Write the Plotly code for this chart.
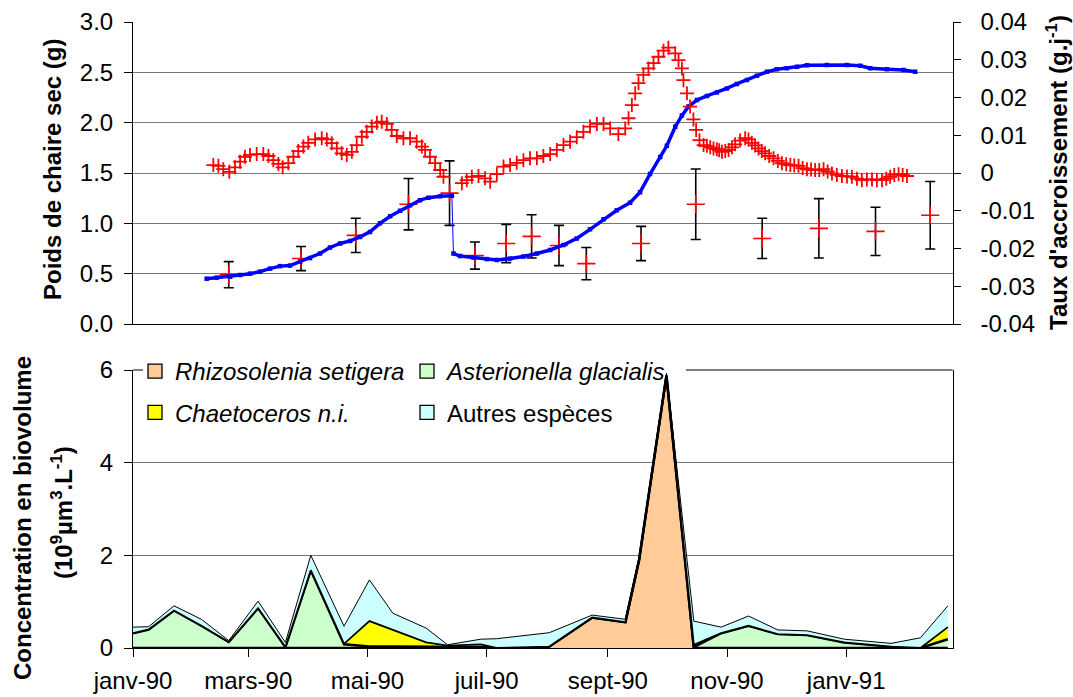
import plotly.graph_objects as go
import pandas as pd

# ---------------- DATA ----------------
BASE_DATE = "1990-01-01"

# Top panel - modelled dry weight (g), days since 1990-01-01
poids_jours = [37.7, 42.8, 49.7, 54.8, 59.9, 65.0, 70.1, 75.2, 80.4, 85.5, 90.6, 95.7, 100.8,
               106.0, 111.1, 116.2, 121.3, 126.4, 131.6, 136.7, 141.8, 146.9, 151.2, 157.2, 163.2,
               164.0, 167.4, 174.2, 181.1, 186.2, 193.0, 199.8, 206.7, 213.5, 220.3, 227.1, 233.9,
               240.8, 247.6, 254.4, 259.5, 264.6, 269.8, 273.2, 277.5, 280.9, 284.3, 288.6, 293.7,
               298.8, 303.9, 309.0, 314.2, 319.3, 324.4, 329.5, 334.6, 339.8, 344.9, 355.1, 365.4,
               372.2, 377.3, 385.8, 394.3, 400.3]
poids_valeurs = [0.45, 0.46, 0.47, 0.487, 0.50, 0.52, 0.55, 0.575, 0.58, 0.62, 0.655, 0.70, 0.76,
                 0.80, 0.825, 0.865, 0.915, 1.0, 1.07, 1.125, 1.18, 1.23, 1.255, 1.27, 1.275,
                 0.70, 0.675, 0.66, 0.645, 0.636, 0.65, 0.67, 0.70, 0.735, 0.785, 0.85, 0.94,
                 1.04, 1.13, 1.205, 1.31, 1.49, 1.66, 1.77, 1.96, 2.07, 2.16, 2.225, 2.265,
                 2.30, 2.34, 2.385, 2.425, 2.465, 2.505, 2.53, 2.54, 2.556, 2.57, 2.573, 2.573,
                 2.566, 2.54, 2.53, 2.523, 2.506]

# Top panel - growth rate (g/day), right axis
taux_jours = [41.1, 43.7, 46.2, 49.3, 52.2, 54.8, 57.3, 59.9, 63.3, 66.7, 69.3, 71.8, 74.4, 76.6,
              79.5, 82.1, 84.6, 87.2, 89.7, 93.2, 96.6, 99.2, 101.7, 104.3, 106.8, 109.4, 112.0,
              114.5, 117.1, 119.6, 122.2, 124.8, 127.3, 129.9, 132.4, 135.0, 138.4, 141.8, 145.2,
              147.8, 149.5, 152.0, 154.6, 157.2, 158.9, 168.3, 170.8, 173.4, 176.8, 180.2, 182.8,
              186.2, 189.6, 193.0, 196.4, 199.8, 203.2, 206.7, 210.0, 213.5, 216.9, 220.3, 223.7,
              227.1, 230.5, 233.9, 237.4, 240.8, 244.2, 248.4, 251.9, 253.6, 255.3, 257.0, 258.7,
              261.2, 263.8, 266.4, 268.9, 271.5, 274.0, 277.5, 279.2, 280.9, 281.7, 283.5, 285.1,
              286.8, 288.2, 289.9, 292.0, 293.7, 295.4, 297.1, 298.8, 300.0, 301.4, 303.1, 304.8,
              306.5, 308.2, 310.7, 313.3, 315.0, 316.7, 318.4, 320.1, 321.8, 323.5, 325.6, 327.8,
              330.0, 332.1, 334.3, 336.4, 338.4, 340.6, 342.7, 344.9, 347.0, 349.1, 351.2, 353.4,
              355.5, 357.7, 360.2, 362.8, 365.4, 367.9, 370.5, 373.0, 375.6, 378.2, 380.7, 383.3,
              385.5, 387.5, 389.6, 391.8, 393.9, 396.1]
taux_valeurs = [0.0021, 0.0019, 0.0010, 0.0003, 0.0015, 0.0030, 0.0043, 0.0048, 0.0050, 0.0050,
                0.0045, 0.0034, 0.0024, 0.0015, 0.0026, 0.0043, 0.0058, 0.0070, 0.0080, 0.0089,
                0.0092, 0.0089, 0.0079, 0.0065, 0.0052, 0.0048, 0.0056, 0.0074, 0.0096, 0.0109,
                0.0123, 0.0133, 0.0136, 0.0130, 0.0114, 0.0098, 0.0092, 0.0092, 0.0083, 0.0070,
                0.0061, 0.0043, 0.0026, 0.0008, -0.0010, -0.0027, -0.0019, -0.0010, -0.0008, -0.0014,
                -0.0023, -0.0003, 0.0017, 0.0021, 0.0027, 0.0034, 0.0039, 0.0039, 0.0045, 0.0050,
                0.0061, 0.0074, 0.0083, 0.0095, 0.0109, 0.0123, 0.0130, 0.0130, 0.0118, 0.0103,
                0.0118, 0.0145, 0.0180, 0.0211, 0.0238, 0.0260, 0.0277, 0.0291, 0.0308, 0.0324,
                0.0332, 0.0317, 0.0299, 0.0277, 0.0246, 0.0211, 0.0176, 0.0142, 0.0114, 0.0087,
                0.0074, 0.0072, 0.0068, 0.0065, 0.0063, 0.0060, 0.0056, 0.0058, 0.0061, 0.0068,
                0.0076, 0.0086, 0.0092, 0.0089, 0.0080, 0.0073, 0.0065, 0.0058, 0.0052, 0.0045,
                0.0039, 0.0032, 0.0026, 0.0023, 0.0021, 0.0020, 0.0019, 0.0013, 0.0010, 0.0009,
                0.0008, 0.0008, 0.0010, 0.0004, -0.0001, -0.0005, -0.0008, -0.0009, -0.0010, -0.0015,
                -0.0019, -0.0017, -0.0017, -0.0019, -0.0019, -0.0015, -0.0010, -0.0005, -0.0003, -0.0005,
                -0.0008]

# Top panel - measured dry weight (g) with standard deviation
mesure_jours = [49, 86, 114, 141, 162, 175, 191, 204, 218, 232, 260, 288, 322, 351, 380, 408]
mesure_valeurs = [0.49, 0.65, 0.88, 1.19, 1.30, 0.68, 0.80, 0.87, 0.78, 0.60, 0.80, 1.19, 0.85, 0.95, 0.92, 1.08]
mesure_ecarts = [0.13, 0.12, 0.17, 0.255, 0.32, 0.135, 0.19, 0.215, 0.20, 0.16, 0.17, 0.35, 0.20, 0.295, 0.24, 0.335]

# Bottom panel - phytoplankton biovolume (10^9 um^3/L)
phyto_jours = [0, 8, 21, 35, 49, 64, 78, 91, 108, 121, 133, 150, 161, 178, 186, 213, 235, 252,
               259, 273, 287, 301, 315, 330, 345, 364, 388, 403, 417]
rhizosolenia = [0, 0, 0, 0, 0, 0, 0, 0, 0, 0, 0, 0, 0, 0, 0, 0.03, 0.66, 0.56, 1.90, 5.88,
                0, 0, 0, 0, 0, 0, 0, 0, 0]
asterionella = [0.32, 0.40, 0.81, 0.48, 0.13, 0.86, 0.02, 1.68, 0.08, 0.03, 0.03, 0.03, 0.02, 0.02,
                0, 0, 0, 0, 0, 0, 0.02, 0.32, 0.48, 0.30, 0.28, 0.12, 0.03, 0, 0.19]
chaetoceros = [0, 0, 0, 0, 0, 0, 0, 0, 0.01, 0.55, 0.36, 0.09, 0.03, 0.06, 0, 0, 0, 0, 0, 0,
               0.05, 0, 0, 0, 0, 0, 0, 0, 0.26]
autres = [0.13, 0.06, 0.10, 0.14, 0.03, 0.15, 0.10, 0.32, 0.38, 0.89, 0.36, 0.31, 0.02, 0.11, 0.20,
          0.30, 0.05, 0.06, 0.05, 0.05, 0.51, 0.13, 0.21, 0.09, 0.09, 0.07, 0.07, 0.22, 0.46]

series_noms = ["<i>Rhizosolenia setigera</i>", "<i>Asterionella glacialis</i>",
               "<i>Chaetoceros n.i.</i>", "Autres espèces"]
series_couleurs = ["#FFCC99", "#CCFFCC", "#FFFF00", "#CCFFFF"]

x_tick_dates = ["1990-01-01", "1990-03-01", "1990-05-01", "1990-07-01", "1990-09-01", "1990-11-01", "1991-01-01"]
x_tick_labels = ["janv-90", "mars-90", "mai-90", "juil-90", "sept-90", "nov-90", "janv-91"]
taux_ticks = [-0.04, -0.03, -0.02, -0.01, 0, 0.01, 0.02, 0.03, 0.04]
taux_tick_labels = ["-0.04", "-0.03", "-0.02", "-0.01", "0", "0.01", "0.02", "0.03", "0.04"]
X_RANGE = ["1990-01-01", "1991-02-24 12:00"]

# ---------------- HELPERS ----------------
base = pd.Timestamp(BASE_DATE)


def to_dates(days):
    return [base + pd.Timedelta(days=float(d)) for d in days]


W, H = 1073, 697
XD = [133 / W, 952.7 / W]
YD_TOP = [1 - 324 / H, 1 - 22 / H]
YD_BOT = [1 - 648 / H, 1 - 370 / H]
FONT = "Liberation Sans, Arial, Helvetica, sans-serif"
FS = 24

fig = go.Figure()

# ---- top panel ----
fig.add_trace(go.Scatter(
    x=to_dates(mesure_jours), y=mesure_valeurs, mode="markers",
    marker=dict(symbol="cross-thin", size=13, color="red", line=dict(color="red", width=1.6)),
    error_y=dict(type="data", array=mesure_ecarts, color="black", thickness=1.6, width=5),
    xaxis="x2", yaxis="y2", showlegend=False))

# weight line: split at the drop
split = next(i for i in range(1, len(poids_valeurs)) if poids_valeurs[i - 1] - poids_valeurs[i] > 0.3)
d_all = to_dates(poids_jours)
fig.add_trace(go.Scatter(x=[d_all[split - 1], d_all[split]],
                         y=[poids_valeurs[split - 1], poids_valeurs[split]],
                         mode="lines", line=dict(color="blue", width=1),
                         xaxis="x2", yaxis="y2", showlegend=False))
for seg in (slice(0, split), slice(split, None)):
    fig.add_trace(go.Scatter(
        x=d_all[seg], y=poids_valeurs[seg], mode="lines+markers",
        line=dict(color="blue", width=3.5),
        marker=dict(symbol="square", size=4.5, color="blue"),
        xaxis="x2", yaxis="y2", showlegend=False))

fig.add_trace(go.Scatter(
    x=to_dates(taux_jours), y=taux_valeurs, mode="markers",
    marker=dict(symbol="cross-thin", size=10, color="red", line=dict(color="red", width=1.8)),
    xaxis="x2", yaxis="y3", showlegend=False))

# ---- bottom panel: stacked areas ----
widths = [2.5, 2.5, 1.8, 1.0]
for vals, col, lw in zip([rhizosolenia, asterionella, chaetoceros, autres], series_couleurs, widths):
    fig.add_trace(go.Scatter(
        x=to_dates(phyto_jours), y=vals, mode="lines", stackgroup="phyto",
        line=dict(color="black", width=lw), fillcolor=col,
        xaxis="x", yaxis="y", showlegend=False, hoverinfo="skip"))

# legend entries (two columns = two legends)
legend_slots = ["legend", "legend2", "legend", "legend2"]
for i, (name, col, lg) in enumerate(zip(series_noms, series_couleurs, legend_slots)):
    fig.add_trace(go.Scatter(
        x=[None], y=[None], mode="markers", name=name,
        marker=dict(symbol="square", size=14, color=col, line=dict(color="black", width=1.3)),
        legend=lg, legendgroup=f"g{i}", xaxis="x", yaxis="y", showlegend=True))

axis_common = dict(linecolor="black", linewidth=1, tickcolor="black", zeroline=False, automargin=False,
                   tickfont=dict(family=FONT, size=FS, color="black"))

legend_common = dict(bgcolor="rgba(0,0,0,0)", borderwidth=0, xanchor="left", yanchor="top",
                     font=dict(family=FONT, size=FS, color="black"), tracegroupgap=7,
                     itemclick=False, itemdoubleclick=False)

# top frame of the lower panel: hidden behind the legend area
y_top_bot = YD_BOT[1]
shapes = [
    dict(type="line", xref="paper", yref="paper", x0=XD[0], x1=143 / W, y0=y_top_bot, y1=y_top_bot,
         line=dict(color="black", width=1)),
    dict(type="line", xref="paper", yref="paper", x0=686 / W, x1=XD[1], y0=y_top_bot, y1=y_top_bot,
         line=dict(color="black", width=1)),
]

fig.update_layout(
    template="plotly_white",
    width=W, height=H, margin=dict(l=0, r=0, t=0, b=0, autoexpand=False),
    paper_bgcolor="white", plot_bgcolor="rgba(0,0,0,0)",
    font=dict(family=FONT, size=FS, color="black"),
    xaxis=dict(domain=XD, range=X_RANGE, type="date", anchor="y",
               tickvals=x_tick_dates, ticktext=x_tick_labels,
               ticks="outside", ticklen=8, showline=True, mirror=False, showgrid=False,
               ticklabelstandoff=3, **axis_common),
    yaxis=dict(domain=YD_BOT, range=[0, 6], tick0=0, dtick=2, anchor="x",
               ticks="outside", ticklen=8, showline=True, mirror=True,
               showgrid=True, gridcolor="#777777", gridwidth=1, ticklabelstandoff=6,
               **axis_common),
    xaxis2=dict(domain=XD, range=X_RANGE, type="date", anchor="y2",
                showticklabels=False, ticks="", showline=True, showgrid=False,
                **axis_common),
    yaxis2=dict(domain=YD_TOP, range=[0, 3], tick0=0, dtick=0.5, tickformat=".1f", anchor="x2",
                ticks="outside", ticklen=8, showline=True, showgrid=True,
                gridcolor="#777777", gridwidth=1, ticklabelstandoff=6, **axis_common),
    yaxis3=dict(overlaying="y2", side="right", range=[-0.04, 0.04], anchor="x2",
                tickvals=taux_ticks, ticktext=taux_tick_labels,
                ticks="outside", ticklen=7, showline=True, showgrid=False,
                ticklabelstandoff=15, **axis_common),
    legend=dict(x=135 / W, y=1 - 349 / H, **legend_common),
    legend2=dict(x=407 / W, y=1 - 349 / H, **legend_common),
    shapes=shapes,
    annotations=[
        dict(text="<b>Poids de chaire sec (g)</b>", x=52 / W, y=1 - 170 / H, xref="paper", yref="paper",
             textangle=-90, showarrow=False, xanchor="center", yanchor="middle",
             font=dict(family=FONT, size=FS, color="black")),
        dict(text="<b>Taux d'accroissement (g.j<sup>-1</sup>)</b>", x=1057 / W, y=1 - 173 / H,
             xref="paper", yref="paper", textangle=-90, showarrow=False,
             xanchor="center", yanchor="middle", font=dict(family=FONT, size=FS, color="black")),
        dict(text="<b>Concentration en biovolume</b>", x=22 / W, y=1 - 518 / H, xref="paper", yref="paper",
             textangle=-90, showarrow=False, xanchor="center", yanchor="middle",
             font=dict(family=FONT, size=FS, color="black")),
        dict(text="<b>(10<sup>9</sup>µm<sup>3</sup>.L<sup>-1</sup>)</b>", x=62 / W, y=1 - 513 / H,
             xref="paper", yref="paper", textangle=-90, showarrow=False,
             xanchor="center", yanchor="middle", font=dict(family=FONT, size=FS, color="black")),
    ],
)

fig.write_html("out.html")
